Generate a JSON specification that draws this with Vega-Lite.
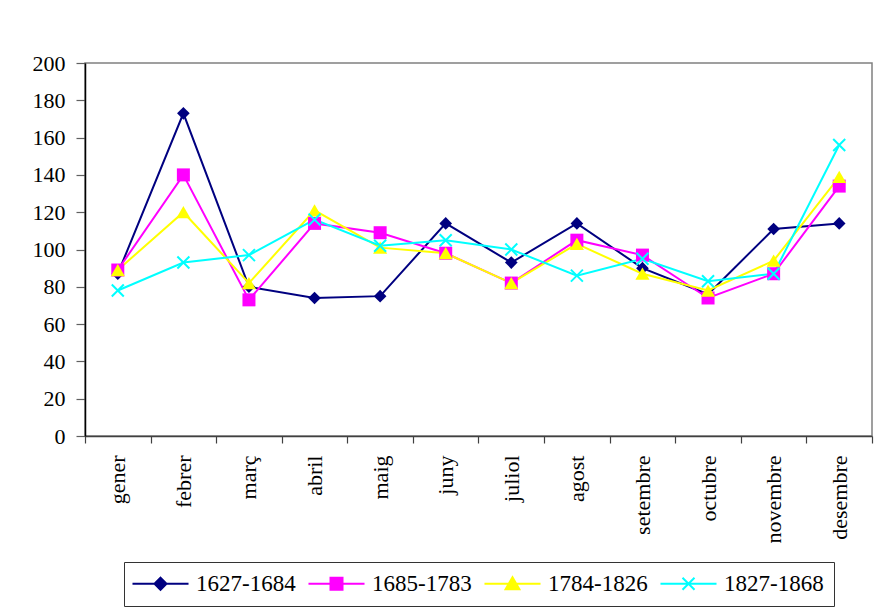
{
  "$schema": "https://vega.github.io/schema/vega-lite/v6.json",
  "width": 787,
  "height": 373,
  "autosize": {"type": "none"},
  "padding": {"left": 85, "top": 63, "right": 10, "bottom": 176},
  "background": "white",
  "config": {
    "font": "Liberation Serif",
    "view": {"stroke": "#808080", "strokeWidth": 1.5},
    "axis": {"grid": false, "labelFont": "Liberation Serif", "labelColor": "#000", "titleFont": "Liberation Serif"},
    "legend": {"orient": "none", "legendX": 39, "legendY": 499, "direction": "horizontal", "columns": 4, "title": null,
      "symbolSize": 144, "symbolStrokeWidth": 2, "symbolOffset": 15, "labelOffset": 24, "columnPadding": 8,
      "labelFont": "Liberation Serif", "labelFontSize": 23, "labelColor": "#000", "padding": 10,
      "strokeColor": "#333333", "fillColor": "#ffffff", "labelLimit": 200, "symbolOpacity": 1}
  },
  "data": {
    "values": [
      {"month": "gener", "series": "1627-1684", "value": 87},
      {"month": "febrer", "series": "1627-1684", "value": 173},
      {"month": "març", "series": "1627-1684", "value": 80},
      {"month": "abril", "series": "1627-1684", "value": 74},
      {"month": "maig", "series": "1627-1684", "value": 75},
      {"month": "juny", "series": "1627-1684", "value": 114},
      {"month": "juliol", "series": "1627-1684", "value": 93},
      {"month": "agost", "series": "1627-1684", "value": 114},
      {"month": "setembre", "series": "1627-1684", "value": 90},
      {"month": "octubre", "series": "1627-1684", "value": 76},
      {"month": "novembre", "series": "1627-1684", "value": 111},
      {"month": "desembre", "series": "1627-1684", "value": 114},
      {"month": "gener", "series": "1685-1783", "value": 89},
      {"month": "febrer", "series": "1685-1783", "value": 140},
      {"month": "març", "series": "1685-1783", "value": 73},
      {"month": "abril", "series": "1685-1783", "value": 114},
      {"month": "maig", "series": "1685-1783", "value": 109},
      {"month": "juny", "series": "1685-1783", "value": 98},
      {"month": "juliol", "series": "1685-1783", "value": 82},
      {"month": "agost", "series": "1685-1783", "value": 105},
      {"month": "setembre", "series": "1685-1783", "value": 97},
      {"month": "octubre", "series": "1685-1783", "value": 74},
      {"month": "novembre", "series": "1685-1783", "value": 87},
      {"month": "desembre", "series": "1685-1783", "value": 134},
      {"month": "gener", "series": "1784-1826", "value": 89},
      {"month": "febrer", "series": "1784-1826", "value": 120},
      {"month": "març", "series": "1784-1826", "value": 82},
      {"month": "abril", "series": "1784-1826", "value": 121},
      {"month": "maig", "series": "1784-1826", "value": 101},
      {"month": "juny", "series": "1784-1826", "value": 98},
      {"month": "juliol", "series": "1784-1826", "value": 82},
      {"month": "agost", "series": "1784-1826", "value": 103},
      {"month": "setembre", "series": "1784-1826", "value": 87},
      {"month": "octubre", "series": "1784-1826", "value": 78},
      {"month": "novembre", "series": "1784-1826", "value": 94},
      {"month": "desembre", "series": "1784-1826", "value": 139},
      {"month": "gener", "series": "1827-1868", "value": 78},
      {"month": "febrer", "series": "1827-1868", "value": 93},
      {"month": "març", "series": "1827-1868", "value": 97},
      {"month": "abril", "series": "1827-1868", "value": 116},
      {"month": "maig", "series": "1827-1868", "value": 102},
      {"month": "juny", "series": "1827-1868", "value": 105},
      {"month": "juliol", "series": "1827-1868", "value": 100},
      {"month": "agost", "series": "1827-1868", "value": 86},
      {"month": "setembre", "series": "1827-1868", "value": 95},
      {"month": "octubre", "series": "1827-1868", "value": 83},
      {"month": "novembre", "series": "1827-1868", "value": 87},
      {"month": "desembre", "series": "1827-1868", "value": 156}
    ]
  },
  "encoding": {
    "x": {
      "field": "month", "type": "nominal",
      "scale": {"type": "band", "paddingInner": 0, "paddingOuter": 0,
        "domain": ["gener", "febrer", "març", "abril", "maig", "juny", "juliol", "agost", "setembre", "octubre", "novembre", "desembre"]},
      "axis": {"title": null, "labelAngle": -90, "labelFontSize": 22, "labelPadding": 12, "tickSize": 7, "tickBand": "extent",
        "domainColor": "#404040", "domainWidth": 1.5, "tickColor": "#404040", "tickWidth": 1.2, "labelBaseline": "middle", "labelAlign": "right"}
    },
    "y": {
      "field": "value", "type": "quantitative",
      "scale": {"domain": [0, 200], "nice": false, "zero": true},
      "axis": {"title": null, "values": [0, 20, 40, 60, 80, 100, 120, 140, 160, 180, 200], "labelFontSize": 22, "labelPadding": 11, "tickSize": 9,
        "domainColor": "#000000", "domainWidth": 1.5, "tickColor": "#606060", "tickWidth": 1.2}
    }
  },
  "layer": [
    {
      "transform": [{"filter": "datum.series == '1627-1684'"}],
      "mark": {"type": "line", "strokeWidth": 2, "color": "#000080"},
      "encoding": {}
    },
    {
      "transform": [{"filter": "datum.series == '1685-1783'"}],
      "mark": {"type": "line", "strokeWidth": 2, "color": "#FF00FF"},
      "encoding": {}
    },
    {
      "transform": [{"filter": "datum.series == '1784-1826'"}],
      "mark": {"type": "line", "strokeWidth": 2, "color": "#FFFF00"},
      "encoding": {}
    },
    {
      "transform": [{"filter": "datum.series == '1827-1868'"}],
      "mark": {"type": "line", "strokeWidth": 2, "color": "#00FFFF"},
      "encoding": {}
    },
    {
      "transform": [{"filter": "datum.series == '1627-1684'"}],
      "mark": {"type": "point", "shape": "diamond", "filled": true, "size": 160, "color": "#000080", "opacity": 1},
      "encoding": {}
    },
    {
      "transform": [{"filter": "datum.series == '1685-1783'"}],
      "mark": {"type": "point", "shape": "square", "filled": true, "size": 169, "color": "#FF00FF", "opacity": 1},
      "encoding": {}
    },
    {
      "transform": [{"filter": "datum.series == '1784-1826'"}],
      "mark": {"type": "point", "shape": "triangle-up", "filled": true, "size": 200, "color": "#FFFF00", "opacity": 1},
      "encoding": {}
    },
    {
      "transform": [{"filter": "datum.series == '1827-1868'"}],
      "mark": {"type": "point", "shape": "M-1,-1L1,1M-1,1L1,-1", "filled": false, "size": 144, "stroke": "#00FFFF", "strokeWidth": 2, "opacity": 1},
      "encoding": {}
    },
    {
      "transform": [{"filter": "datum.series == 'none'"}],
      "mark": {"type": "point", "filled": true, "strokeWidth": 2, "opacity": 1},
      "encoding": {
        "fill": {"field": "series", "type": "nominal",
          "scale": {"domain": ["1627-1684", "1685-1783", "1784-1826", "1827-1868"], "range": ["#000080", "#FF00FF", "#FFFF00", "#00FFFF"]}},
        "stroke": {"field": "series", "type": "nominal",
          "scale": {"domain": ["1627-1684", "1685-1783", "1784-1826", "1827-1868"], "range": ["#000080", "#FF00FF", "#FFFF00", "#00FFFF"]}},
        "shape": {"field": "series", "type": "nominal",
          "scale": {"domain": ["1627-1684", "1685-1783", "1784-1826", "1827-1868"],
            "range": ["M-4.67,0H4.67M0,-1L1,0L0,1L-1,0Z", "M-4.67,0H4.67M-1,-1H1V1H-1Z", "M-4.67,0H4.67M0,-1.1L1.15,0.9H-1.15Z", "M-4.67,0H4.67M-1,-1L1,1M-1,1L1,-1"]}}
      }
    }
  ]
}
